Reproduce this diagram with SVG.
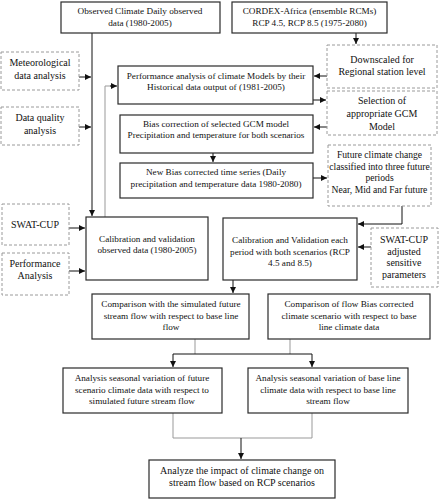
<svg xmlns="http://www.w3.org/2000/svg" width="441" height="500" viewBox="0 0 441 500">
<style>
.b{fill:#fff;stroke:#2a2a2a;stroke-width:1.2}
.d{fill:#fff;stroke:#9a9a9a;stroke-width:1;stroke-dasharray:3 2}
text{font-family:"Liberation Serif","Times New Roman",serif;fill:#111;text-anchor:middle}
.t{font-size:9.2px}
.s{font-size:10px}
.f{font-size:9.6px}
.c{fill:none;stroke:#111;stroke-width:1}
.g{fill:none;stroke:#999;stroke-width:1}
</style>
<defs>
<marker id="a" viewBox="0 0 6 6" refX="6" refY="3" markerWidth="6" markerHeight="6" markerUnits="userSpaceOnUse" orient="auto">
<path d="M0,0L6,3L0,6z" fill="#111"/>
</marker>
</defs>
<rect width="441" height="500" fill="#fff"/>
<g id="connectors">
<path class="c" d="M92,33V216" marker-end="url(#a)"/>
<path class="c" d="M79,77H91" marker-end="url(#a)"/>
<path class="c" d="M79,127H91" marker-end="url(#a)"/>
<path class="g" d="M105,217V86H112"/>
<path class="c" d="M110,86H117" marker-end="url(#a)"/>
<path class="c" d="M69,228H85" marker-end="url(#a)"/>
<path class="c" d="M69,271H85" marker-end="url(#a)"/>
<path class="c" d="M356,33V44" marker-end="url(#a)"/>
<path class="c" d="M327,76H314" marker-end="url(#a)"/>
<path class="c" d="M313,100H326" marker-end="url(#a)"/>
<path class="c" d="M327,127H314" marker-end="url(#a)"/>
<path class="c" d="M213,153V162" marker-end="url(#a)"/>
<path class="c" d="M313,178H327" marker-end="url(#a)"/>
<path class="c" d="M402,206V224H358" marker-end="url(#a)"/>
<path class="c" d="M371,247H358" marker-end="url(#a)"/>
<path class="c" d="M233,280V293" marker-end="url(#a)"/>
<path class="g" d="M195,339V354"/>
<path class="g" d="M290,339V354"/>
<path class="c" d="M173,354H312"/>
<path class="c" d="M173,354V367" marker-end="url(#a)"/>
<path class="c" d="M312,354V367" marker-end="url(#a)"/>
<path class="g" d="M173,413V438H312V413"/>
<path class="c" d="M241,438V459" marker-end="url(#a)"/>
</g>
<g id="obs">
<rect class="b" x="61" y="2" width="159" height="31"/>
<text class="t" x="140" y="14">Observed Climate Daily observed</text>
<text class="t" x="140" y="26">data (1980-2005)</text>
</g>
<g id="cordex">
<rect class="b" x="232" y="2" width="155" height="31"/>
<text class="t" x="309.5" y="14">CORDEX-Africa (ensemble RCMs)</text>
<text class="t" x="309.5" y="26">RCP 4.5, RCP 8.5 (1975-2080)</text>
</g>
<g id="downscaled">
<rect class="d" x="327" y="45" width="110" height="43"/>
<text class="s" x="382" y="63">Downscaled for</text>
<text class="s" x="382" y="75">Regional station level</text>
</g>
<g id="selection">
<rect class="d" x="327" y="91" width="110" height="44"/>
<text class="s" x="382" y="104">Selection of</text>
<text class="s" x="382" y="117">appropriate GCM</text>
<text class="s" x="382" y="130">Model</text>
</g>
<g id="meteo">
<rect class="d" x="1" y="52" width="78" height="38"/>
<text class="s" x="40" y="66">Meteorological</text>
<text class="s" x="40" y="79">data analysis</text>
</g>
<g id="quality">
<rect class="d" x="1" y="107" width="78" height="38"/>
<text class="s" x="40" y="121">Data quality</text>
<text class="s" x="40" y="134">analysis</text>
</g>
<g id="performance">
<rect class="b" x="118" y="66" width="195" height="38"/>
<text class="t" x="216" y="79">Performance analysis of climate Models by their</text>
<text class="t" x="216" y="90">Historical data output of (1981-2005)</text>
</g>
<g id="bias">
<rect class="b" x="120" y="115" width="193" height="38"/>
<text class="t" x="216" y="127">Bias correction of selected GCM model</text>
<text class="t" x="216" y="138">Precipitation and temperature for both scenarios</text>
</g>
<g id="newbias">
<rect class="b" x="120" y="163" width="193" height="35"/>
<text class="t" x="216" y="175">New Bias corrected time series (Daily</text>
<text class="t" x="216" y="187">precipitation and temperature data 1980-2080)</text>
</g>
<g id="future">
<rect class="d" x="328" y="145" width="103" height="61"/>
<text class="f" x="379.5" y="158">Future climate change</text>
<text class="f" x="379.5" y="169.5">classified into three future</text>
<text class="f" x="379.5" y="181">periods</text>
<text class="f" x="379.5" y="192.5">Near, Mid and Far future</text>
</g>
<g id="swatcup1">
<rect class="d" x="2" y="204" width="67" height="41"/>
<text class="s" x="35" y="228">SWAT-CUP</text>
</g>
<g id="perfanalysis">
<rect class="d" x="2" y="253" width="67" height="42"/>
<text class="s" x="35" y="267">Performance</text>
<text class="s" x="35" y="279">Analysis</text>
</g>
<g id="calib">
<rect class="b" x="86" y="217" width="122" height="63"/>
<text class="t" x="147" y="242">Calibration and validation</text>
<text class="t" x="147" y="253">observed data (1980-2005)</text>
</g>
<g id="calib2">
<rect class="b" x="223" y="218" width="134" height="62"/>
<text class="t" x="290" y="243">Calibration and Validation each</text>
<text class="t" x="290" y="254.5">period with both scenarios (RCP</text>
<text class="t" x="290" y="266">4.5 and 8.5)</text>
</g>
<g id="swatcup2">
<rect class="d" x="371" y="228" width="67" height="59"/>
<text class="s" x="404" y="243">SWAT-CUP</text>
<text class="s" x="404" y="254.5">adjusted</text>
<text class="s" x="404" y="266">sensitive</text>
<text class="s" x="404" y="277.5">parameters</text>
</g>
<g id="comp1">
<rect class="b" x="92" y="294" width="157" height="45"/>
<text class="t" x="171" y="307">Comparison with the simulated future</text>
<text class="t" x="171" y="318.5">stream flow with respect to base line</text>
<text class="t" x="171" y="330">flow</text>
</g>
<g id="comp2">
<rect class="b" x="268" y="294" width="162" height="45"/>
<text class="t" x="349" y="307">Comparison of flow Bias corrected</text>
<text class="t" x="349" y="318.5">climate scenario with respect to base</text>
<text class="t" x="349" y="330">line climate data</text>
</g>
<g id="analysis1">
<rect class="b" x="63" y="368" width="159" height="45"/>
<text class="t" x="142" y="381">Analysis seasonal variation of future</text>
<text class="t" x="142" y="392.5">scenario climate data with respect to</text>
<text class="t" x="142" y="404">simulated future stream flow</text>
</g>
<g id="analysis2">
<rect class="b" x="248" y="368" width="160" height="45"/>
<text class="t" x="328" y="381">Analysis seasonal variation of base line</text>
<text class="t" x="328" y="392.5">climate data with respect to base line</text>
<text class="t" x="328" y="404">stream flow</text>
</g>
<g id="impact">
<rect class="b" x="149" y="460" width="186" height="38"/>
<text class="s" x="242" y="474">Analyze the impact of climate change on</text>
<text class="s" x="242" y="486">stream flow based on RCP scenarios</text>
</g>
</svg>
